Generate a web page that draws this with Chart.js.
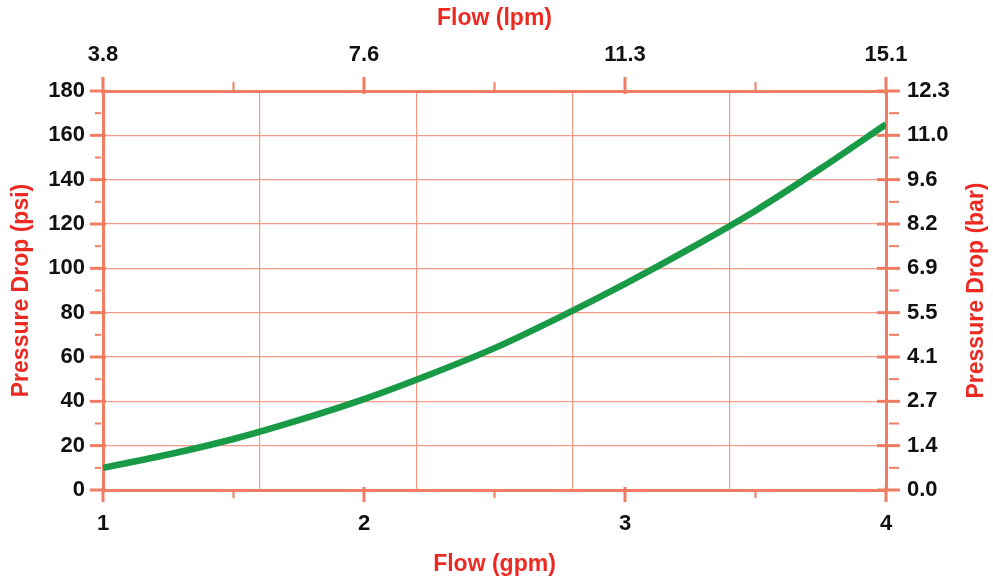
<!DOCTYPE html>
<html>
<head>
<meta charset="utf-8">
<script src="https://cdn.jsdelivr.net/npm/chart.js@4"></script>
<style>
  html, body { margin: 0; padding: 0; background: #fff; }
  .chart-container { position: relative; width: 993px; height: 579px; }
</style>
</head>
<body>
<div class="chart-container"><canvas id="myChart"></canvas></div>
<script>
// flow (gpm) vs pressure drop (psi)
const gpm = [1, 1.25, 1.5, 1.75, 2, 2.25, 2.5, 2.75, 3, 3.25, 3.5, 3.75, 4];
const psi = [10, 16, 23, 31.5, 41, 52, 64, 78, 93, 109, 126, 145, 165];

// secondary tick labels
const lpmTicks = ['3.8', '7.6', '11.3', '15.1'];
const barTicks = ['0.0', '1.4', '2.7', '4.1', '5.5', '6.9', '8.2', '9.6', '11.0', '12.3'];

// vertical grid lines (gpm)
const gridGpm = [1.6, 2.2, 2.8, 3.4];

const axisColor = '#f07c62';
const gridColor = '#f59a86';
const titleColor = '#ec2a22';
const tickFont = { family: 'Liberation Sans, Arial, sans-serif', size: 22, weight: 'bold' };
const titleFont = { family: 'Liberation Sans, Arial, sans-serif', size: 23, weight: 'bold' };

// draws the crossing major ticks, the minor ticks and the right title
const axisMarks = {
  id: 'axisMarks',
  afterDraw(chart) {
    const ctx = chart.ctx;
    const { left, right, top, bottom } = chart.chartArea;
    const xs = chart.scales.x, ys = chart.scales.y;
    ctx.save();
    ctx.strokeStyle = axisColor;
    ctx.lineWidth = 3;
    const line = (x1, y1, x2, y2) => { ctx.beginPath(); ctx.moveTo(x1, y1); ctx.lineTo(x2, y2); ctx.stroke(); };

    const xMajor = chart.scales.x2.ticks.map(t => t.value);
    xMajor.forEach((v, i) => {
      const p = xs.getPixelForValue(v);
      line(p, bottom - 3, p, bottom + 12);
      line(p, top + 3, p, top - 14);
      if (i < xMajor.length - 1) {
        const m = xs.getPixelForValue((v + xMajor[i + 1]) / 2);
        ctx.lineWidth = 2;
        line(m, bottom, m, bottom + 8);
        line(m, top, m, top - 9);
        ctx.lineWidth = 3;
      }
    });

    const yMajor = ys.ticks.map(t => t.value);
    yMajor.forEach((v, i) => {
      const p = ys.getPixelForValue(v);
      line(left - 13, p, left + 3, p);
      line(right - 9, p, right + 14, p);
      if (i < yMajor.length - 1) {
        const m = ys.getPixelForValue((v + yMajor[i + 1]) / 2);
        ctx.lineWidth = 2;
        line(left - 8, m, left - 2, m);
        line(right + 3, m, right + 13, m);
        ctx.lineWidth = 3;
      }
    });

    // right title reads bottom to top like the left one
    ctx.fillStyle = titleColor;
    ctx.font = 'bold 23px "Liberation Sans", Arial, sans-serif';
    ctx.textAlign = 'center';
    ctx.textBaseline = 'middle';
    ctx.translate(977, (top + bottom) / 2);
    ctx.rotate(-Math.PI / 2);
    ctx.fillText('Pressure Drop (bar)', 0, 0);
    ctx.restore();
  }
};

const ctx = document.getElementById('myChart');
new Chart(ctx, {
  type: 'line',
  data: {
    datasets: [{
      label: 'Pressure Drop',
      data: gpm.map((g, i) => ({ x: g, y: psi[i] })),
      borderColor: '#189a46',
      borderWidth: 6.5,
      pointRadius: 0,
      cubicInterpolationMode: 'monotone',
      fill: false
    }]
  },
  options: {
    responsive: true,
    maintainAspectRatio: false,
    animation: false,
    layout: { padding: 0 },
    plugins: { legend: { display: false }, tooltip: { enabled: false } },
    scales: {
      x: {
        type: 'linear',
        position: 'bottom',
        min: 1,
        max: 4,
        afterBuildTicks: (scale) => {
          const vals = [1, 2, 3, 4].concat(gridGpm).sort((a, b) => a - b);
          scale.ticks = vals.map(v => ({ value: v }));
        },
        afterFit: (scale) => { scale.height = 89; },
        ticks: {
          autoSkip: false,
          maxRotation: 0,
          padding: 21,
          color: '#111',
          font: tickFont,
          callback: (v) => (Number.isInteger(v) ? String(v) : '')
        },
        grid: {
          drawTicks: false,
          lineWidth: 1.2,
          color: (c) => (c.tick && gridGpm.includes(c.tick.value) ? gridColor : 'rgba(0,0,0,0)')
        },
        border: { color: axisColor, width: 3 },
        title: { display: true, text: 'Flow (gpm)', color: titleColor, font: titleFont, padding: { top: 0, bottom: 1 } }
      },
      x2: {
        type: 'linear',
        position: 'top',
        min: 1,
        max: 4,
        afterFit: (scale) => { scale.height = 91; },
        ticks: {
          stepSize: 1,
          maxRotation: 0,
          padding: 23,
          color: '#111',
          font: tickFont,
          callback: (v, i) => lpmTicks[i]
        },
        grid: { drawOnChartArea: false, drawTicks: false },
        border: { color: axisColor, width: 3 },
        title: { display: true, text: 'Flow (lpm)', color: titleColor, font: titleFont, padding: { top: 5, bottom: 0 } }
      },
      y: {
        position: 'left',
        min: 0,
        max: 180,
        afterFit: (scale) => { scale.width = 103; },
        ticks: { stepSize: 20, padding: 18, color: '#111', font: tickFont },
        grid: { drawTicks: false, color: gridColor, lineWidth: 1.2 },
        border: { color: axisColor, width: 3 },
        title: { display: true, text: 'Pressure Drop (psi)', color: titleColor, font: titleFont, padding: { top: 8, bottom: 0 } }
      },
      y2: {
        position: 'right',
        min: 0,
        max: 180,
        afterFit: (scale) => { scale.width = 107; },
        ticks: {
          stepSize: 20,
          padding: 21,
          color: '#111',
          font: tickFont,
          callback: (v, i) => barTicks[i]
        },
        grid: { drawOnChartArea: false, drawTicks: false },
        border: { color: axisColor, width: 3 }
      }
    }
  },
  plugins: [axisMarks]
});
</script>
</body>
</html>
